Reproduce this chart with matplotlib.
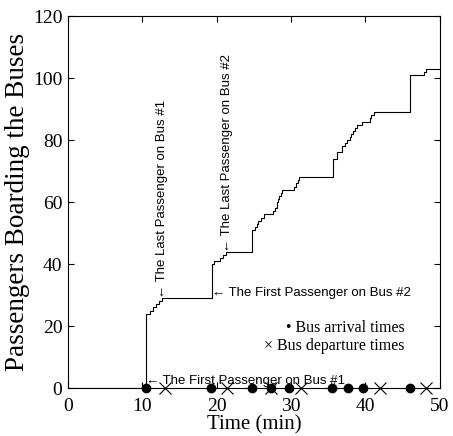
import matplotlib
matplotlib.use("Agg")
import matplotlib.pyplot as plt

# cumulative passengers boarding (value holds from each time onward)
step_times = [0, 10.5, 11.0, 11.5, 11.9, 12.3, 12.7, 19.3, 19.6, 20.4, 20.9, 21.3,
              24.8, 25.2, 25.4, 25.6, 26.0, 26.4, 27.6, 27.8, 28.1, 28.3, 28.4, 28.6, 28.8,
              30.4, 30.7, 30.9, 31.1, 35.6, 36.2, 36.8, 37.2, 37.5, 37.9, 38.1, 38.3,
              38.6, 38.8, 39.5, 40.6, 40.8, 41.1, 46.0, 47.9, 48.1, 50]
boarded = [0, 24, 25, 26, 27, 28, 29, 40, 41, 42, 43, 44,
           51, 52, 53, 54, 55, 56, 57, 58, 60, 61, 62, 63, 64,
           65, 66, 67, 68, 74, 76, 78, 79, 80, 81, 82, 83,
           84, 85, 86, 87, 88, 89, 101, 102, 103, 103]

arrival_times = [10.5, 19.2, 24.8, 27.3, 29.7, 35.5, 37.7, 39.7, 46.0]
departure_times = [13.1, 21.4, 27.3, 31.3, 41.9, 48.1]

serif = ["Liberation Serif", "DejaVu Serif"]
sans = ["Liberation Sans", "DejaVu Sans"]

fig = plt.figure(figsize=(4.53, 4.36), dpi=100)
ax = fig.add_axes([0.150, 0.110, 0.821, 0.853])

ax.step(step_times, boarded, where="post", color="black", linewidth=0.8)
ax.plot(arrival_times, [0] * len(arrival_times), "o", color="black",
        markersize=6, clip_on=False, zorder=5)
ax.plot(departure_times, [0] * len(departure_times), "x", color="black",
        markersize=8, markeredgewidth=0.8, clip_on=False, zorder=5)

# annotations, arrow points at the marked passenger
ax.text(10.5, 2.2, "\u2190 The First Passenger on Bus #1", family=sans, fontsize=9.5,
        ha="left", va="center")
ax.text(19.3, 30.6, "\u2190 The First Passenger on Bus #2", family=sans, fontsize=9.5,
        ha="left", va="center")
ax.text(12.7, 29, "\u2190 The Last Passenger on Bus #1", family=sans, fontsize=9.5,
        rotation=90, ha="center", va="bottom")
ax.text(21.35, 44, "\u2190 The Last Passenger on Bus #2", family=sans, fontsize=9.5,
        rotation=90, ha="center", va="bottom")

ax.text(45.3, 19.4, "\u2022 Bus arrival times", family=serif, fontsize=11.5,
        ha="right", va="center")
ax.text(45.3, 13.5, "\u00d7 Bus departure times", family=serif, fontsize=11.5,
        ha="right", va="center")

ax.set_xlim(0, 50)
ax.set_ylim(0, 120)
ax.set_xticks([0, 10, 20, 30, 40, 50])
ax.set_yticks([0, 20, 40, 60, 80, 100, 120])
ax.tick_params(direction="in", top=True, right=True, length=4, width=0.8,
               labelsize=14, pad=4)
ax.tick_params(axis="x", pad=7)
for lbl in ax.get_xticklabels() + ax.get_yticklabels():
    lbl.set_family(serif)
for sp in ax.spines.values():
    sp.set_linewidth(0.8)

ax.set_xlabel("Time (min)", family=serif, fontsize=15, labelpad=0)
ax.set_ylabel("Passengers Boarding the Buses", family=serif, fontsize=19.5, labelpad=2)

fig.savefig("out.png", dpi=100)
